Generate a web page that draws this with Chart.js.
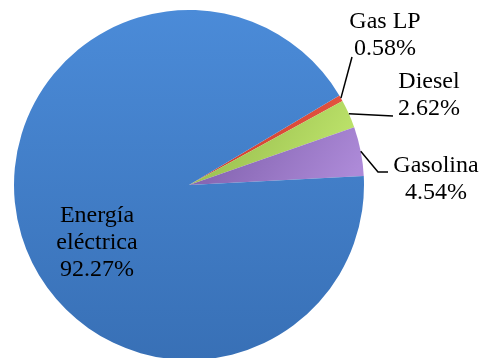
<!DOCTYPE html>
<html>
<head>
    <meta charset="UTF-8">
    <style>
        html, body { margin: 0; padding: 0; background: #fff; }
        #wrap { width: 479px; height: 358px; overflow: hidden; }
    </style>
</head>
<body>
    <div id="wrap">
        <canvas id="pieChart" width="479" height="362"></canvas>
    </div>

    <script src="https://cdn.jsdelivr.net/npm/chart.js@4/dist/chart.umd.min.js"></script>

    <script>
        // data, in clockwise drawing order
        const labels = ['Gas LP', 'Diesel', 'Gasolina', 'Energía eléctrica'];
        const shares = [0.58, 2.62, 4.54, 92.27];

        // colours: [light, dark] per slice
        const colours = [
            ['#f0604a', '#c8372a'],
            ['#c4ea70', '#93b84a'],
            ['#ad8ad8', '#7b5ca8'],
            ['#4b8bd8', '#3870b6']
        ];

        // where each label sits and where its leader line ends (null = no line)
        const labelSpots = [
            { x: 385, y: 28, line: [[352, 57]] },
            { x: 429, y: 88, line: [[393, 116]] },
            { x: 436, y: 172, line: [[378, 172], [388, 172]] },
            { x: 97, y: 222, line: null }
        ];

        function sliceFill(context) {
            const chart = context.chart;
            const area = chart.chartArea;
            const c = colours[context.dataIndex];
            if (!area) return c[1];
            if (context.dataIndex < 3) {
                const r = chart.ctx.createLinearGradient(area.left + 200, area.top + 90, area.left + 330, area.top + 180);
                r.addColorStop(0, c[1]);
                r.addColorStop(1, c[0]);
                return r;
            }
            const g = chart.ctx.createLinearGradient(0, area.top, 0, area.bottom);
            g.addColorStop(0, c[0]);
            g.addColorStop(1, c[1]);
            return g;
        }

        const labelPlugin = {
            id: 'sliceLabels',
            afterDatasetsDraw(chart) {
                const ctx = chart.ctx;
                const arcs = chart.getDatasetMeta(0).data;
                ctx.save();
                ctx.fillStyle = '#000';
                arcs.forEach((arc, i) => {
                    const spot = labelSpots[i];
                    const words = labels[i] === 'Energía eléctrica'
                        ? ['Energía', 'eléctrica']
                        : [labels[i]];
                    const lines = words.concat([shares[i].toFixed(2) + '%']);
                    ctx.font = '24px "Liberation Serif"';
                    lines.forEach((t, k) => {
                        const w = ctx.measureText(t).width;
                        ctx.fillText(t, spot.x - w / 2, spot.y + k * 27);
                    });

                    if (spot.line) {
                        const p = arc.getProps(['x', 'y', 'startAngle', 'endAngle', 'outerRadius'], true);
                        const mid = (p.startAngle + p.endAngle) / 2;
                        ctx.beginPath();
                        ctx.strokeStyle = '#000';
                        ctx.lineWidth = 1.5;
                        ctx.moveTo(p.x + Math.cos(mid) * p.outerRadius, p.y + Math.sin(mid) * p.outerRadius);
                        spot.line.forEach(pt => ctx.lineTo(pt[0], pt[1]));
                        ctx.stroke();
                    }
                });
                ctx.restore();
            }
        };

        const pieConfig = {
            type: 'pie',
            data: {
                labels: labels,
                datasets: [
                    {
                        data: shares,
                        backgroundColor: sliceFill,
                        borderWidth: 0
                    }
                ]
            },
            options: {
                responsive: false,
                animation: false,
                rotation: 59.2,
                layout: {
                    padding: { left: 14, right: 115, top: 10, bottom: 2 }
                },
                plugins: {
                    legend: { display: false },
                    tooltip: { enabled: false }
                }
            },
            plugins: [labelPlugin]
        };

        new Chart(document.getElementById('pieChart'), pieConfig);
    </script>
</body>
</html>
